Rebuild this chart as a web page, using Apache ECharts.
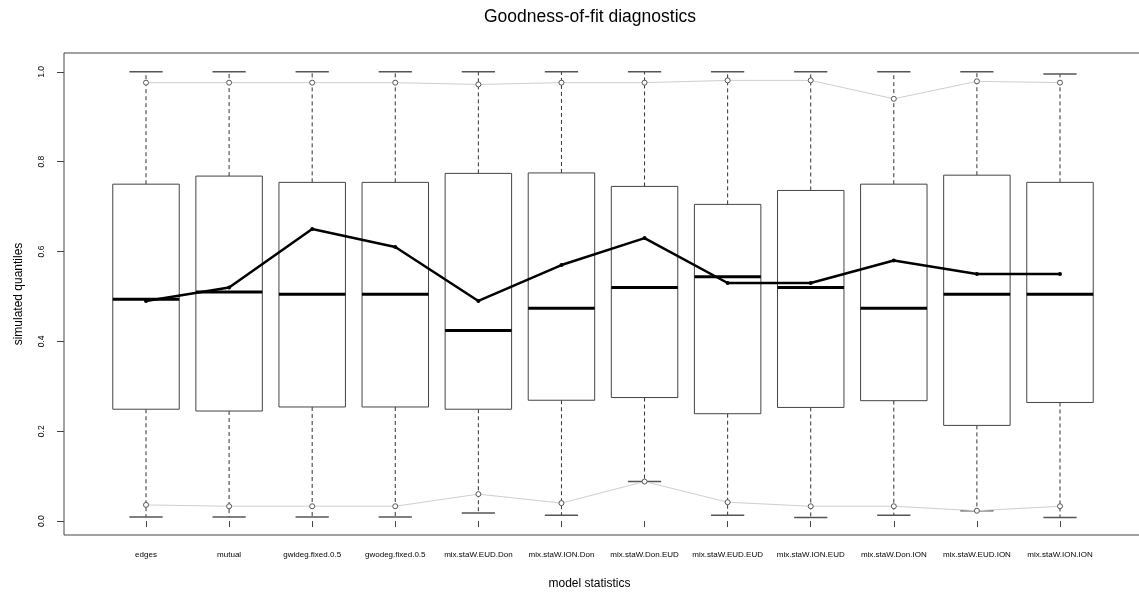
<!DOCTYPE html>
<html>
<head>
<meta charset="utf-8">
<script src="https://cdn.jsdelivr.net/npm/echarts@6/dist/echarts.min.js"></script>
<style>
  html, body { margin: 0; padding: 0; background: #fff; }
  #chart { width: 1139px; height: 597px; }
</style>
</head>
<body>
<div id="chart"></div>
<script>
// Model statistics on the x axis
const categories = ['edges', 'mutual', 'gwideg.fixed.0.5', 'gwodeg.fixed.0.5',
  'mix.staW.EUD.Don', 'mix.staW.ION.Don', 'mix.staW.Don.EUD', 'mix.staW.EUD.EUD',
  'mix.staW.ION.EUD', 'mix.staW.Don.ION', 'mix.staW.EUD.ION', 'mix.staW.ION.ION'];

// Box-and-whisker summaries of the simulated quantiles
const whiskerLow    = [0.009, 0.009, 0.009, 0.009, 0.018, 0.013, 0.088, 0.013, 0.008, 0.013, 0.023, 0.008];
const lowerQuartile = [0.249, 0.245, 0.254, 0.254, 0.249, 0.269, 0.275, 0.239, 0.253, 0.268, 0.213, 0.264];
const medianValue   = [0.494, 0.510, 0.505, 0.505, 0.424, 0.474, 0.520, 0.544, 0.520, 0.474, 0.505, 0.505];
const upperQuartile = [0.750, 0.768, 0.754, 0.754, 0.774, 0.775, 0.745, 0.705, 0.736, 0.750, 0.770, 0.754];
const whiskerHigh   = [1.000, 1.000, 1.000, 1.000, 1.000, 1.000, 1.000, 1.000, 1.000, 1.000, 1.000, 0.995];

// Observed statistic quantiles (thick black line)
const observed = [0.49, 0.52, 0.65, 0.61, 0.49, 0.57, 0.63, 0.53, 0.53, 0.58, 0.55, 0.55];

// Lower / upper reference bands (thin grey lines)
const lowerBand = [0.036, 0.033, 0.033, 0.033, 0.060, 0.040, 0.088, 0.042, 0.033, 0.033, 0.023, 0.033];
const upperBand = [0.976, 0.976, 0.976, 0.976, 0.972, 0.976, 0.976, 0.981, 0.981, 0.940, 0.979, 0.976];

// Axis ticks
const yTicks = [0, 0.2, 0.4, 0.6, 0.8, 1.0];
const xTicks = categories.map((_, i) => i + 1);

const FONT = 'Liberation Sans, Arial, Helvetica, sans-serif';

const boxData = categories.map((_, i) => [i + 1, whiskerLow[i], lowerQuartile[i], medianValue[i], upperQuartile[i], whiskerHigh[i]]);

function renderBox(params, api) {
  const x = api.value(0);
  const lo = api.coord([x, api.value(1)]);
  const q1 = api.coord([x, api.value(2)]);
  const md = api.coord([x, api.value(3)]);
  const q3 = api.coord([x, api.value(4)]);
  const hi = api.coord([x, api.value(5)]);
  const boxW = api.size([0.8, 0])[0];
  const capW = api.size([0.4, 0])[0];
  const cx = lo[0];
  const dash = { stroke: '#333', lineWidth: 1, lineDash: [4, 3] };
  const cap = { stroke: '#555', lineWidth: 1.5 };
  return {
    type: 'group',
    children: [
      { type: 'line', shape: { x1: cx, y1: q3[1], x2: cx, y2: hi[1] }, style: dash },
      { type: 'line', shape: { x1: cx, y1: q1[1], x2: cx, y2: lo[1] }, style: dash },
      { type: 'line', shape: { x1: cx - capW / 2, y1: hi[1], x2: cx + capW / 2, y2: hi[1] }, style: cap },
      { type: 'line', shape: { x1: cx - capW / 2, y1: lo[1], x2: cx + capW / 2, y2: lo[1] }, style: cap },
      { type: 'rect', shape: { x: cx - boxW / 2, y: q3[1], width: boxW, height: q1[1] - q3[1] },
        style: { fill: '#fff', stroke: '#444', lineWidth: 1 } },
      { type: 'line', shape: { x1: cx - boxW / 2, y1: md[1], x2: cx + boxW / 2, y2: md[1] },
        style: { stroke: '#000', lineWidth: 3 } }
    ]
  };
}

const chart = echarts.init(document.getElementById('chart'), null, { renderer: 'canvas' });

chart.setOption({
  animation: false,
  backgroundColor: '#fff',
  title: {
    text: 'Goodness-of-fit diagnostics',
    left: 479,
    top: 3,
    textStyle: { fontFamily: FONT, fontSize: 17.5, fontWeight: 'normal', color: '#000' }
  },
  grid: {
    left: 64, top: 53, width: 1077, height: 482,
    outerBoundsMode: 'none',
    containLabel: false,
    show: true, borderColor: '#444', borderWidth: 1, backgroundColor: 'transparent'
  },
  xAxis: {
    type: 'value',
    min: 0.013, max: 12.975,
    name: 'model statistics',
    nameLocation: 'middle',
    nameGap: 43,
    nameTextStyle: { fontFamily: FONT, fontSize: 12, color: '#000', padding: [0, 26, 0, 0] },
    axisLine: { show: false },
    splitLine: { show: false },
    axisTick: { show: true, length: 6, customValues: xTicks, lineStyle: { color: '#444' } },
    axisLabel: {
      customValues: xTicks,
      margin: 16,
      fontFamily: FONT, fontSize: 8, color: '#000',
      formatter: v => categories[Math.round(v) - 1] || ''
    }
  },
  yAxis: {
    type: 'value',
    min: -0.031, max: 1.042,
    name: 'simulated quantiles',
    nameLocation: 'middle',
    nameGap: 39,
    nameRotate: 90,
    nameTextStyle: { fontFamily: FONT, fontSize: 12, color: '#000' },
    axisLine: { show: false },
    splitLine: { show: false },
    axisTick: { show: true, length: 7, customValues: yTicks, lineStyle: { color: '#444' } },
    axisLabel: {
      customValues: yTicks,
      rotate: 90,
      margin: 18,
      fontFamily: FONT, fontSize: 8.5, color: '#000',
      formatter: v => v.toFixed(1)
    }
  },
  series: [
    {
      type: 'custom',
      renderItem: renderBox,
      data: boxData,
      encode: { x: 0, y: [1, 2, 3, 4, 5] },
      z: 1
    },
    {
      type: 'line',
      data: upperBand.map((v, i) => [i + 1, v]),
      lineStyle: { color: '#cfcfcf', width: 1 },
      symbol: 'circle', symbolSize: 5,
      itemStyle: { color: '#fff', borderColor: '#555', borderWidth: 1 },
      z: 3
    },
    {
      type: 'line',
      data: lowerBand.map((v, i) => [i + 1, v]),
      lineStyle: { color: '#cfcfcf', width: 1 },
      symbol: 'circle', symbolSize: 5,
      itemStyle: { color: '#fff', borderColor: '#555', borderWidth: 1 },
      z: 3
    },
    {
      type: 'line',
      data: observed.map((v, i) => [i + 1, v]),
      lineStyle: { color: '#000', width: 2.5 },
      symbol: 'circle', symbolSize: 4,
      itemStyle: { color: '#000' },
      z: 4
    }
  ]
});
</script>
</body>
</html>
